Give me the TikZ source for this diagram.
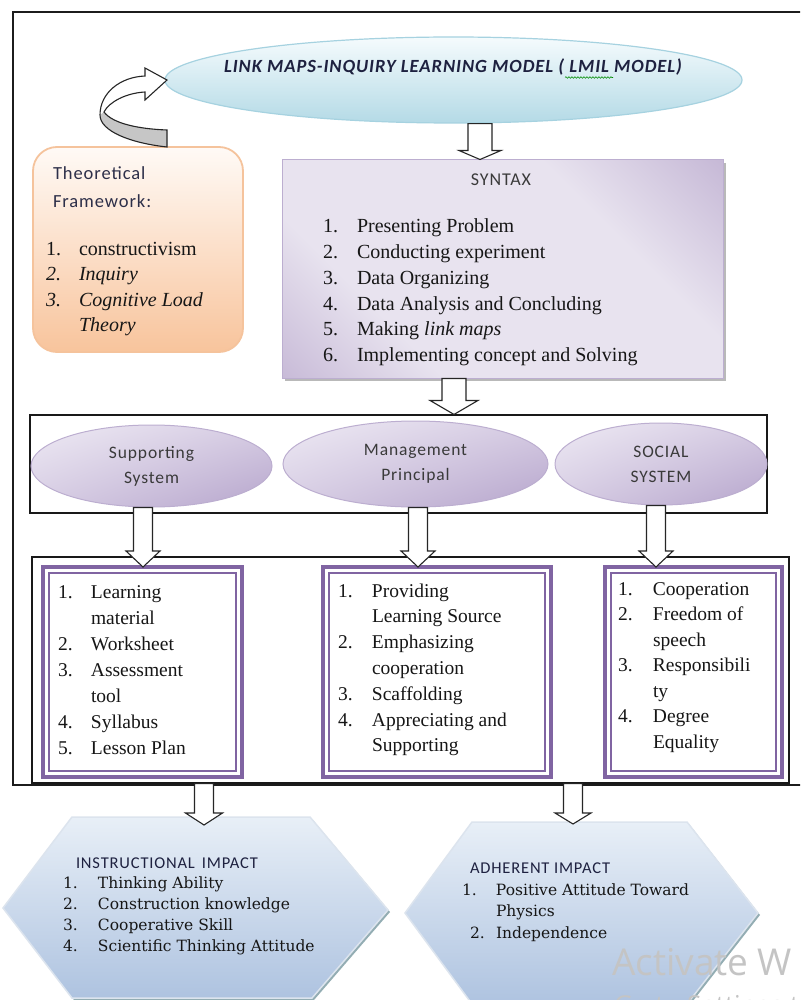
\documentclass[tikz,border=0pt]{standalone}
\usepackage{fontspec}
\setmainfont{Liberation Serif}
\newfontfamily\calfont[LetterSpace=5]{Carlito}
\newfontfamily\hexfont{DejaVu Serif}
\newfontfamily\wmfont{Open Sans}
\usetikzlibrary{shapes.geometric,calc,decorations.pathmorphing,shadings}

\definecolor{framebk}{HTML}{1C1C1C}
\definecolor{inkblack}{HTML}{161616}
\definecolor{titleink}{HTML}{1E2140}
\definecolor{titletop}{HTML}{F5FBFD}
\definecolor{titlebot}{HTML}{B4DAE6}
\definecolor{titleedge}{HTML}{A6D2E0}
\definecolor{peachtop}{HTML}{FFFAF6}
\definecolor{peachbot}{HTML}{F8C49C}
\definecolor{peachedge}{HTML}{F5C39C}
\definecolor{lavlight}{HTML}{E8E3EF}
\definecolor{lavdark}{HTML}{AD99C4}
\definecolor{lavedge}{HTML}{BCAED0}
\definecolor{ovalhi}{HTML}{EEEAF4}
\definecolor{ovalmid}{HTML}{D6CCE3}
\definecolor{ovallo}{HTML}{B6A5CC}
\definecolor{ovalink}{HTML}{3A3A3A}
\definecolor{boxpurple}{HTML}{8064A2}
\definecolor{hextop}{HTML}{E8EFF7}
\definecolor{hexbot}{HTML}{AEC3E0}
\definecolor{hexedge}{HTML}{DCE4EE}
\definecolor{hexshadow}{HTML}{93ADB3}
\definecolor{curlgray}{HTML}{C6C6C6}
\definecolor{wmgray}{HTML}{C4C4C4}

% diagonal band shading for the syntax panel
\pgfdeclarehorizontalshading{syntaxshade}{100bp}{color(0bp)=(lavdark); color(32bp)=(lavlight); color(66bp)=(lavlight); color(100bp)=(lavdark)}

% hollow block arrow pointing down: from, tip, shaft half width, head half width, head length
\newcommand\blockdown[5]{%
  \draw[blockarrow] let \p1=#1, \p2=#2 in
    (\x1-#3,\y1) -- (\x1-#3,\y2+#5) -- (\x1-#4,\y2+#5) -- (\x1,\y2)
    -- (\x1+#4,\y2+#5) -- (\x1+#3,\y2+#5) -- (\x1+#3,\y1) -- cycle;}

\tikzset{
  frameline/.style={draw=framebk, line width=2.6pt},
  thinbox/.style={draw=black!90, line width=1.1pt, inner sep=0pt},
  blockarrow/.style={draw=black!85, fill=white, line width=1.1pt, line join=miter},
  ovalnode/.style={ellipse, inner sep=0pt, draw=lavedge, line width=1pt,
    upper left=ovalhi, upper right=ovalmid, lower left=ovalmid, lower right=ovallo,
    font=\calfont\fontsize{17.5}{25}\selectfont, align=center, text=ovalink},
  purplebox/.style={rectangle, draw=boxpurple, line width=3.8pt, fill=white, inner sep=0pt, outer sep=0pt},
  purpleinner/.style={draw=boxpurple, line width=2.2pt},
  listtext/.style={anchor=base west, inner sep=0pt, outer sep=0pt, text=inkblack},
  hexpanel/.style={top color=hextop, bottom color=hexbot, draw=hexedge, line width=1.5pt},
  hexshade/.style={fill=hexshadow},
}

\begin{document}
\begin{tikzpicture}[x=1pt,y=-1pt]
\useasboundingbox (0,0) rectangle (800,1000);
\clip (0,0) rectangle (800,1000);
\fill[white] (0,0) rectangle (800,1000);

% outer frame
\draw[frameline, line join=miter] (812,785) -- (13,785) -- (13,12) -- (812,12);

% model title
\node[ellipse, minimum width=577, minimum height=86, inner sep=0pt,
      top color=titletop, bottom color=titlebot, draw=titleedge, line width=1.2pt] (topell) at (453.5,80) {};
\node[anchor=base, inner sep=0pt, text=titleink,
      font=\calfont\bfseries\itshape\fontsize{18.6}{20}\selectfont] (title) at (453,73)
      {LINK MAPS-INQUIRY LEARNING MODEL ( LMIL MODEL)};
\draw[green!55!black, line width=0.6pt, decorate,
      decoration={snake, amplitude=0.8pt, segment length=3pt}] (565,77.5) -- (613,77.5);

% theoretical framework
\node[rectangle, rounded corners=24pt, minimum width=210, minimum height=205, inner sep=0pt,
      top color=peachtop, bottom color=peachbot, draw=peachedge, line width=1.8pt] (theo) at (138,249.5) {};
\node[listtext, text=titleink!85!gray, font=\calfont\fontsize{18.5}{28}\selectfont] (theohead) at (53,180)
  {\begin{tabular}[t]{@{}l@{}}Theoretical\\Framework:\end{tabular}};
\node[listtext, font=\fontsize{20}{25.5}\selectfont] (theolist) at (46,255)
  {\begin{tabular}[t]{@{}p{33pt}@{}l@{}}
   1. & constructivism\\
   \textit{2.} & \textit{Inquiry}\\
   \textit{3.} & \textit{Cognitive Load}\\
    & \textit{Theory}
   \end{tabular}};

% curled arrow feeding the framework into the model
\fill[white] (167,147) .. controls (130,143) and (100,131) .. (100,115)
   .. controls (100,93) and (120,77) .. (145,76) -- (145,68) -- (167,80) -- (145,100) -- (145,92)
   .. controls (126,93) and (109,102) .. (104,112)
   .. controls (113,124) and (140,129) .. (167,130) -- cycle;
\fill[curlgray] (104,112) .. controls (113,124) and (140,129) .. (167,130) -- (167,147)
   .. controls (130,143) and (100,131) .. (100,115) -- cycle;
\draw[black!85, line width=1.1pt, line join=miter] (167,147) .. controls (130,143) and (100,131) .. (100,115)
   .. controls (100,93) and (120,77) .. (145,76) -- (145,68) -- (167,80) -- (145,100) -- (145,92)
   .. controls (126,93) and (109,102) .. (104,112)
   .. controls (113,124) and (140,129) .. (167,130) -- cycle;

% syntax panel
\fill[gray!55] (285,163) rectangle (726,381);
\node[rectangle, minimum width=441, minimum height=218, inner sep=0pt,
      shading=syntaxshade, shading angle=45, draw=lavedge, line width=1pt] (syn) at (502.5,269) {};
\node[anchor=base, inner sep=0pt, text=ovalink, font=\calfont\fontsize{18}{20}\selectfont] (synhead) at (501,186) {SYNTAX};
\node[listtext, font=\fontsize{20}{25.7}\selectfont] (synlist) at (323,233)
  {\begin{tabular}[t]{@{}p{34pt}@{}l@{}}
   1. & Presenting Problem\\
   2. & Conducting experiment\\
   3. & Data Organizing\\
   4. & Data Analysis and Concluding\\
   5. & Making \textit{link maps}\\
   6. & Implementing concept and Solving
   \end{tabular}};

% components row
\node[thinbox, rectangle, minimum width=737, minimum height=98] (midbox) at (398.5,464) {};
\node[ovalnode, minimum width=241, minimum height=82] (sup) at (151.5,466) {Supporting\\System};
\node[ovalnode, minimum width=265, minimum height=86] (man) at (415.5,464) {Management\\Principal};
\node[ovalnode, minimum width=212, minimum height=82] (soc) at (661,464) {SOCIAL\\SYSTEM};

% component details
\node[thinbox, rectangle, minimum width=757, minimum height=226] (lowbox) at (410.5,670) {};
\node[purplebox, minimum width=199, minimum height=210] (pbl) at (142.5,672) {};
\node[purplebox, minimum width=228, minimum height=210] (pbm) at (437,672) {};
\node[purplebox, minimum width=177, minimum height=210] (pbr) at (693.5,672) {};
\foreach \b in {pbl,pbm,pbr}
  \draw[purpleinner] ($(\b.north west)+(6.3,6.3)$) rectangle ($(\b.south east)+(-6.3,-6.3)$);

\node[listtext, font=\fontsize{19.5}{26.1}\selectfont] (suplist) at (58,598)
  {\begin{tabular}[t]{@{}p{33pt}@{}l@{}}
   1. & Learning\\
      & material\\
   2. & Worksheet\\
   3. & Assessment\\
      & tool\\
   4. & Syllabus\\
   5. & Lesson Plan
   \end{tabular}};
\node[listtext, font=\fontsize{19.5}{25.8}\selectfont] (manlist) at (338,597)
  {\begin{tabular}[t]{@{}p{34pt}@{}l@{}}
   1. & Providing\\
      & Learning Source\\
   2. & Emphasizing\\
      & cooperation\\
   3. & Scaffolding\\
   4. & Appreciating and\\
      & Supporting
   \end{tabular}};
\node[listtext, font=\fontsize{19.5}{25.5}\selectfont] (soclist) at (618,595)
  {\begin{tabular}[t]{@{}p{35pt}@{}l@{}}
   1. & Cooperation\\
   2. & Freedom of\\
      & speech\\
   3. & Responsibili\\
      & ty\\
   4. & Degree\\
      & Equality
   \end{tabular}};

% impact panels
\fill[hexshade] (74,819) -- (312,819) -- (390,912) -- (314,1000) -- (74,1000) -- (5,910) -- cycle;
\shade[hexpanel] (72,817) -- (310,817) -- (388,910) -- (312,998) -- (72,998) -- (3,908) -- cycle;
\fill[hexshade] (474,824) -- (689,824) -- (760,915) -- (689,1006) -- (474,1006) -- (407,915) -- cycle;
\shade[hexpanel] (472,822) -- (687,822) -- (758,913) -- (687,1004) -- (472,1004) -- (405,913) -- cycle;
\coordinate (instr-in) at (204,825);
\coordinate (adh-in) at (573,824);

\node[listtext, text=titleink, font=\calfont\fontsize{16.5}{20}\selectfont] (instrhead) at (76,868)
  {INSTRUCTIONAL\hspace{7pt}IMPACT};
\node[listtext, font=\hexfont\fontsize{15.5}{21.3}\selectfont] (instrlist) at (63,888)
  {\begin{tabular}[t]{@{}p{35pt}@{}l@{}}
   1. & Thinking Ability\\
   2. & Construction knowledge\\
   3. & Cooperative Skill\\
   4. & Scientific Thinking Attitude
   \end{tabular}};
\node[listtext, text=titleink, font=\calfont\fontsize{16.5}{20}\selectfont] (adhhead) at (470,873)
  {ADHERENT IMPACT};
\node[listtext, font=\hexfont\fontsize{15.5}{21.5}\selectfont] (adhlist) at (462,895)
  {\begin{tabular}[t]{@{}p{34pt}@{}l@{}}
   1. & Positive Attitude Toward\\
      & Physics\\
   \hspace{8pt}2. & Independence
   \end{tabular}};

% block arrows
\blockdown{(480,0 |- topell.south)}{(480,0 |- syn.north)}{12pt}{21pt}{9pt}
\blockdown{(454,0 |- syn.south)}{(454,0 |- midbox.north)}{12pt}{24pt}{14pt}
\blockdown{(143,0 |- sup.south)}{(143,0 |- pbl.north)}{9.5pt}{17pt}{16pt}
\blockdown{(418,0 |- man.south)}{(418,0 |- pbm.north)}{9.5pt}{17pt}{16pt}
\blockdown{(656,0 |- soc.south)}{(656,0 |- pbr.north)}{9.5pt}{17pt}{16pt}
\blockdown{(204,0 |- lowbox.south)}{(instr-in)}{9.5pt}{18.5pt}{12pt}
\blockdown{(573,0 |- lowbox.south)}{(adh-in)}{9.5pt}{18pt}{11pt}

% system notice
\node[listtext, text=wmgray, font=\wmfont\fontsize{37}{40}\selectfont] (wmline) at (612,975) {Activate W};
\node[listtext, text=wmgray, font=\wmfont\fontsize{26}{28}\selectfont] (wmsub) at (614,1014) {Go to Settings to activate Windows.};
\end{tikzpicture}
\end{document}
